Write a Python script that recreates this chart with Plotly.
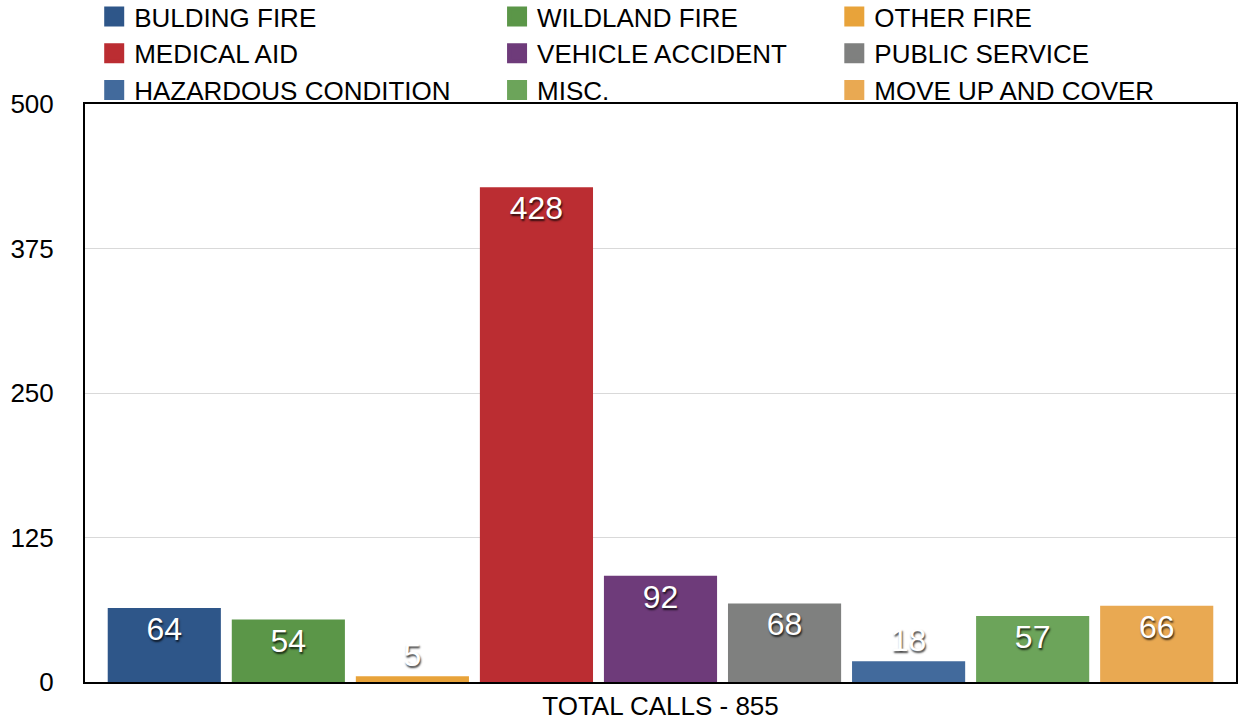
import plotly.graph_objects as go

category = ["TOTAL CALLS - 855"]
call_types = [
    "BULDING FIRE", "WILDLAND FIRE", "OTHER FIRE",
    "MEDICAL AID", "VEHICLE ACCIDENT", "PUBLIC SERVICE",
    "HAZARDOUS CONDITION", "MISC.", "MOVE UP AND COVER",
]
call_counts = [64, 54, 5, 428, 92, 68, 18, 57, 66]
colors = [
    "#2e5689", "#5b9648", "#e8a33a",
    "#bb2d32", "#6e3b7a", "#7f807f",
    "#426a9c", "#6ca45a", "#e9a952",
]
# legend column for each call type (the reference legend is 3 columns)
legend_cols = ["legend", "legend2", "legend3"] * 3

FONT = "Liberation Sans, Arial, Helvetica, sans-serif"
label_font = dict(color="white", size=32, family=FONT,
                  shadow="1px 2px 2px rgba(0,0,0,0.75)")

fig = go.Figure()

for name, val, col in zip(call_types, call_counts, colors):
    fig.add_trace(go.Bar(
        x=category, y=[val], name=name,
        marker=dict(color=col, line=dict(width=0)),
        text=[str(val)], textposition="auto", insidetextanchor="end",
        textangle=0, textfont=label_font, outsidetextfont=label_font,
        cliponaxis=False, showlegend=False, legendgroup=name,
    ))

# legend-only proxies so the swatches come out as larger squares
for name, col, leg in zip(call_types, colors, legend_cols):
    fig.add_trace(go.Scatter(
        x=category, y=[None], mode="markers", name=name,
        marker=dict(symbol="square", size=16, color=col,
                    line=dict(color=col, width=4)),
        legend=leg, legendgroup=name, hoverinfo="skip",
    ))

leg_style = dict(
    orientation="v", xanchor="left", yanchor="top", y=1.192,
    font=dict(size=26, family=FONT, color="black"),
    bgcolor="rgba(0,0,0,0)", itemwidth=30, tracegroupgap=0,
)

fig.update_layout(
    width=1238, height=721,
    paper_bgcolor="white", plot_bgcolor="white",
    margin=dict(l=85, r=2, t=104, b=39, autoexpand=False),
    barmode="group", bargap=0.03, bargroupgap=0.088,
    font=dict(family=FONT, color="black", size=26),
    legend=dict(leg_style, x=0.008),
    legend2=dict(leg_style, x=0.358),
    legend3=dict(leg_style, x=0.651),
    xaxis=dict(
        showline=True, linecolor="black", linewidth=2, mirror=True,
        tickfont=dict(size=26), ticks="",
    ),
    yaxis=dict(
        range=[0, 500], tickvals=[0, 125, 250, 375, 500],
        showline=True, linecolor="black", linewidth=2, mirror=True,
        showgrid=True, gridcolor="#d9d9d9", gridwidth=1,
        tickfont=dict(size=26), ticks="", ticklabelstandoff=24,
        zeroline=False,
    ),
)

# drop the default 8px page margin so the figure sits at the window corner
fig.write_html("out.html", config={"displayModeBar": False},
               post_script="document.body.style.margin='0';")
